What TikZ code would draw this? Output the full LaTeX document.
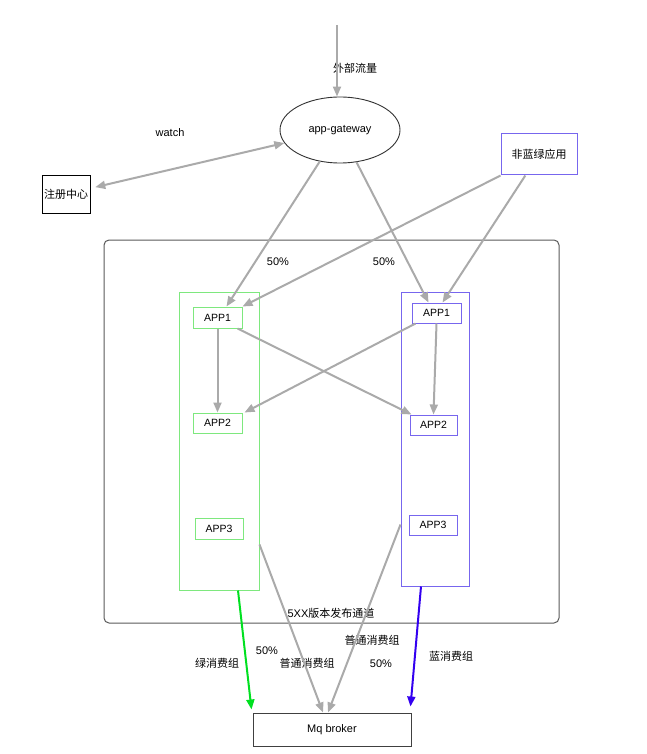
\documentclass[tikz,border=0pt]{standalone}
\usepackage{fontspec}
\setmainfont{Liberation Sans}
\newfontfamily\cjk{Noto Sans CJK SC}
\usetikzlibrary{arrows.meta,calc,shapes.geometric}
\definecolor{grn}{HTML}{7EE87E}
\definecolor{blu}{HTML}{7766EE}
\definecolor{grnarr}{HTML}{00E020}
\definecolor{bluarr}{HTML}{3300F0}
\definecolor{arrgray}{HTML}{AAAAAA}
\begin{document}
\begin{tikzpicture}[x=1pt,y=-1pt,
  font=\fontsize{11}{13}\selectfont,
  box/.style={draw, line width=1pt, inner sep=1pt, rectangle},
  appbox/.style={box, font=\fontsize{10.5}{12}\selectfont, minimum height=20pt},
  gbox/.style={appbox, draw=grn},
  bbox/.style={appbox, draw=blu},
  flow/.style={draw=arrgray, line width=2pt, -{Triangle[length=10pt,width=8pt]}},
  lbl/.style={inner sep=0pt}]
\useasboundingbox (0,0) rectangle (646,754);

% container
\node[box, draw=black!65, rounded corners=5pt, minimum width=455pt, minimum height=383pt] (ct) at (331.5,431.5) {};
\node[box, draw=grn, minimum width=80pt, minimum height=298pt] (gc) at (219,441) {};
\node[box, draw=blu, minimum width=68pt, minimum height=294pt] (bc) at (435,439) {};

% nodes
\node[draw=black!80, line width=0.9pt, ellipse, minimum width=120pt, minimum height=66pt, inner sep=0pt] (gw) at (340,130) {app-gateway};
\node[box, line width=0.8pt, minimum width=48pt, minimum height=38pt] (reg) at (66,194) {\cjk 注册中心};
\node[box, draw=blu, minimum width=76pt, minimum height=41pt] (nb) at (539,154.5) {\cjk 非蓝绿应用};
\node[gbox, minimum width=49pt, minimum height=21pt] (g1) at (217.5,317.5) {APP1};
\node[gbox, minimum width=49pt] (g2) at (217.5,423) {APP2};
\node[gbox, minimum width=48pt, minimum height=21pt] (g3) at (219,528.5) {APP3};
\node[bbox, minimum width=49pt] (b1) at (436.5,313) {APP1};
\node[bbox, minimum width=47pt] (b2) at (433.5,425) {APP2};
\node[bbox, minimum width=48pt] (b3) at (433,525) {APP3};
\node[box, draw=black!75, minimum width=158pt, minimum height=33pt] (mq) at (332,729.5) {Mq broker};
\coordinate (src) at (337,25);

% labels
\node[lbl] (lext) at (355,68) {\cjk 外部流量};
\node[lbl] (lwatch) at (170,133) {watch};
\node[lbl] (l50a) at (278,262) {50\%};
\node[lbl] (l50b) at (384,262) {50\%};
\node[lbl] (l5xx) at (331,613) {5XX{\cjk 版本发布通道}};
\node[lbl] (lpt1) at (372,640) {\cjk 普通消费组};
\node[lbl] (l50c) at (267,651) {50\%};
\node[lbl] (lgreen) at (217,663) {\cjk 绿消费组};
\node[lbl] (lpt2) at (307,663) {\cjk 普通消费组};
\node[lbl] (l50d) at (381,664) {50\%};
\node[lbl] (lblue) at (451,656) {\cjk 蓝消费组};

% connectors
\draw[flow] (src) -- (src |- gw.north);
\draw[flow, {Triangle[length=10pt,width=8pt]}-{Triangle[length=10pt,width=8pt]}, shorten <=5pt] (reg) -- (gw);
\draw[flow] (gw) -- ($(g1.north)+(9,0)$);
\draw[flow] (gw) -- ($(b1.north)+(-8,0)$);
\draw[flow] (nb.south west) -- (g1.north east);
\draw[flow] (nb) -- ($(b1.north)+(6,0)$);
\draw[flow] (g1) -- (g2);
\draw[flow] ($(g1.south east)+(-5,0)$) -- ($(b2.north west)+(2,0)$);
\draw[flow] ($(b1.south west)+(4,0)$) -- ($(g2.north east)+(2,0)$);
\draw[flow] (b1.south) -- (b2.north);
\draw[flow] ($(gc.south east)+(0,-46)$) -- ($(mq.north)+(-9,0)$);
\draw[flow] ($(bc.south west)+(0,-62)$) -- ($(mq.north)+(-4,0)$);
\draw[flow, draw=grnarr, fill=grnarr] ($(gc.south)+(19,0)$) -- ($(mq.north west)+(-1,-3)$);
\draw[flow, draw=bluarr, fill=bluarr] ($(bc.south)+(-14,0)$) -- ($(mq.north east)+(-1,-6)$);
\end{tikzpicture}
\end{document}
